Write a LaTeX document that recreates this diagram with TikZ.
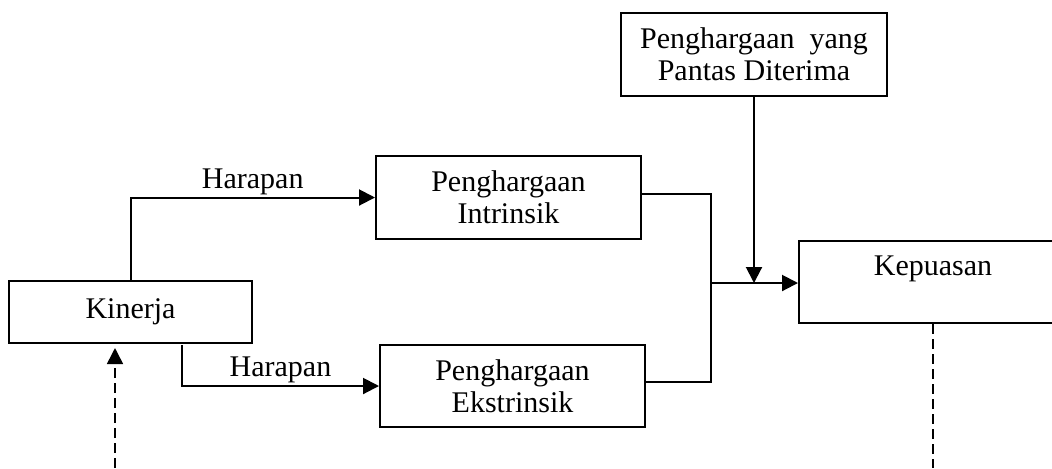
\documentclass[tikz,border=0pt]{standalone}
\usepackage{fontspec}
\setmainfont{Liberation Serif}
\usetikzlibrary{arrows.meta}

\begin{document}
\begin{tikzpicture}[
  x=0.5pt, y=-0.5pt,
  line width=1pt,
  font=\fontsize{15}{16}\selectfont,
  box/.style={draw, rectangle, align=center, inner sep=2pt},
  arr/.style={-{Triangle[length=8pt,width=8pt]}},
  dashline/.style={dashed, dash pattern=on 5pt off 2.5pt, line width=0.8pt}
]
  \useasboundingbox (0,0) rectangle (1052,468);
  \clip (0,0) rectangle (1052,468);

  % Left column
  \node[box, minimum width=121.5pt, minimum height=31pt] (K) at (130.5,312) {Kinerja};

  % Middle column
  \node[box, minimum width=132.5pt, minimum height=41.5pt] (PI) at (508.5,197.5) {Penghargaan\\Intrinsik};
  \node[box, minimum width=132.5pt, minimum height=41pt] (PE) at (512.5,386) {Penghargaan\\Ekstrinsik};

  % Right column
  \node[box, minimum width=133pt, minimum height=41.5pt] (PD) at (754,54.5) {Penghargaan\ \ yang\\Pantas Diterima};
  \node[box, minimum width=134pt, minimum height=41pt] (KP) at (933,282) {Kepuasan\\[-4pt] \strut};

  % Helper points
  \coordinate (k2) at (182,345);
  \coordinate (j) at (711,283);
  \coordinate (d1) at (115,468);

  % Arrows
  \draw[arr] (K.north) |- node[pos=0.75, above, inner sep=1pt] {Harapan} (PI.west);
  \draw[arr] (k2) |- node[pos=0.75, above, inner sep=1pt] {Harapan} (PE.west);
  \draw ([yshift=2pt]PI.east) -| (j);
  \draw ([yshift=2pt]PE.east) -| (j);
  \draw[arr] (j) -- (j -| KP.west);
  \draw[arr] (PD.south) -- (PD.south |- j);
  \draw[arr, dashline] (d1) -- ([yshift=-2pt]d1 |- K.south);
  \draw[dashline] (KP.south) -- (KP.south |- d1);
\end{tikzpicture}
\end{document}
